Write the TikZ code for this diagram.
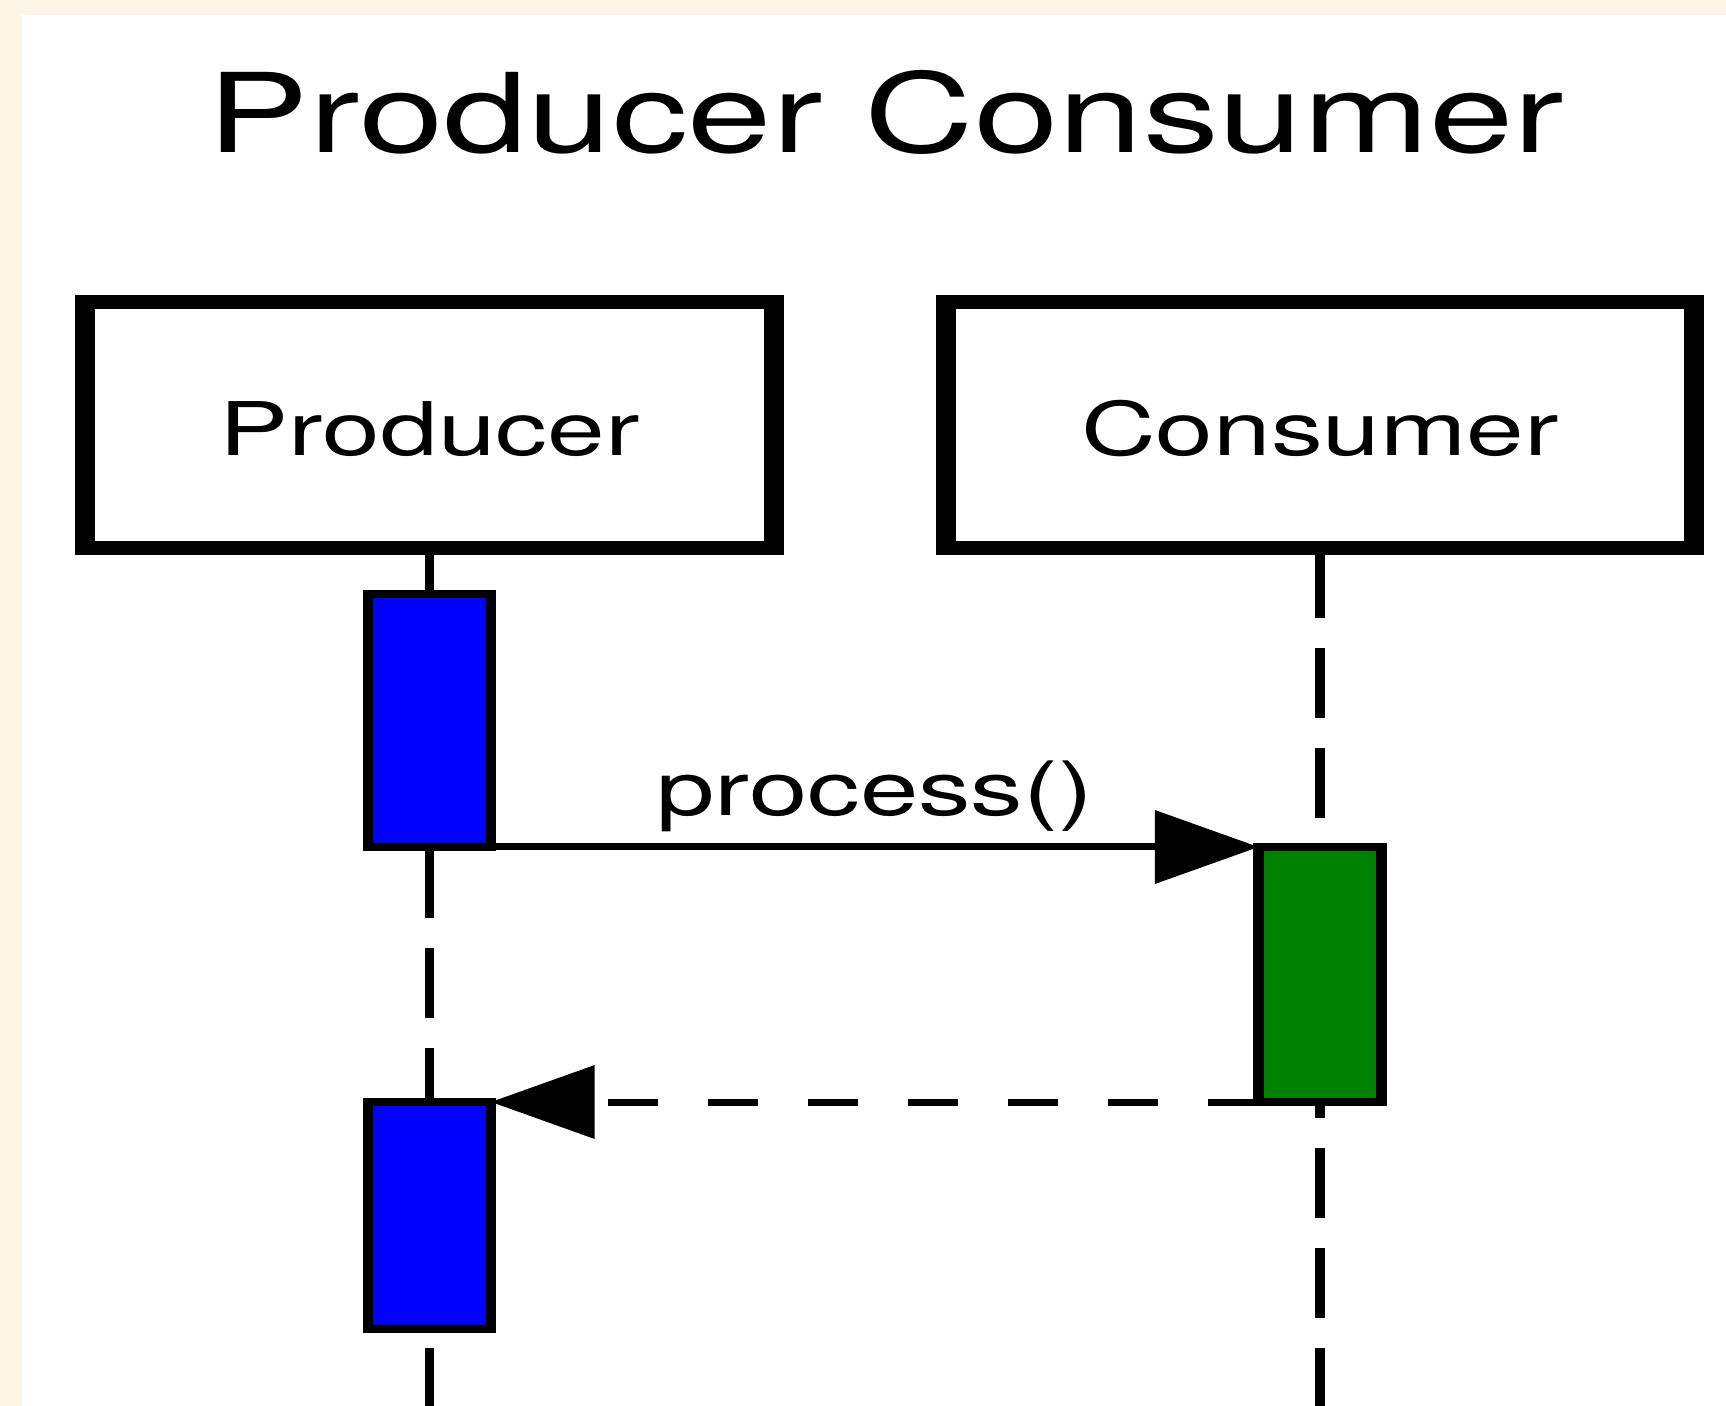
\documentclass[tikz,border=0pt]{standalone}
\usepackage{graphicx}
\usepackage{fontspec}
\setmainfont{TeX Gyre Heros}
\usetikzlibrary{arrows.meta}
\definecolor{paper}{RGB}{253,245,230}
\definecolor{actblue}{RGB}{0,0,255}
\definecolor{actgreen}{RGB}{0,128,0}

\begin{document}
\begin{tikzpicture}[x=0.5pt,y=-0.5pt,
  actor/.style={draw, fill=white, line width=7pt, outer sep=0pt, inner sep=0pt,
    minimum height=123pt, text height=31pt, text depth=0pt,
    font=\fontsize{37}{40}\selectfont},
  lifeline/.style={line width=3.5pt, dash pattern=on 35pt off 15pt},
  activation/.style={draw, line width=3.75pt, outer sep=0pt, inner sep=0pt,
    minimum width=44pt},
  call/.style={line width=3.5pt,
    -{Triangle[length=37pt,width=37pt,line width=0pt]}},
  reply/.style={call, dash pattern=on 17.86pt off 17.86pt},
]
% page background with its cream margin
\fill[paper] (0,0) rectangle (1726,1406);
\fill[white] (22,15) rectangle (1726,1406);
\useasboundingbox (0,0) rectangle (1726,1406);

% the whole sequence diagram is set in a horizontally widened canvas
\begin{scope}[transform canvas={xscale=1.4}]
  \node[anchor=base, font=\fontsize{55}{60}\selectfont] (title) at (633,153)
    {\scalebox{0.985}[1]{Producer Consumer}};

  \node[actor, minimum width=246.2pt] (producer) at (306.8,425) {Producer};
  \node[actor, minimum width=267.3pt] (consumer) at (942.9,425) {Consumer};

  % lifelines
  \coordinate (pend) at (306.8,1420);
  \coordinate (cend) at (942.9,1420);
  \draw[lifeline] (producer.south) -- (pend);
  \draw[lifeline] (consumer.south) -- (cend);

  % activation bars
  \node[activation, fill=actblue, minimum height=126.5pt] (run1) at (306.8,720.5) {};
  \node[activation, fill=actgreen, minimum height=127.5pt] (work) at (942.9,974.5) {};
  \node[activation, fill=actblue, minimum height=113.5pt] (run2) at (306.8,1215.5) {};

  % messages
  \draw[call] (run1.south east) --
    node[midway, anchor=base, yshift=15.5pt, font=\fontsize{37.5}{40}\selectfont] (msg) {process()}
    (work.north west);
  \draw[reply] (work.south west) -- (run2.north east);
\end{scope}
\end{tikzpicture}
\end{document}
